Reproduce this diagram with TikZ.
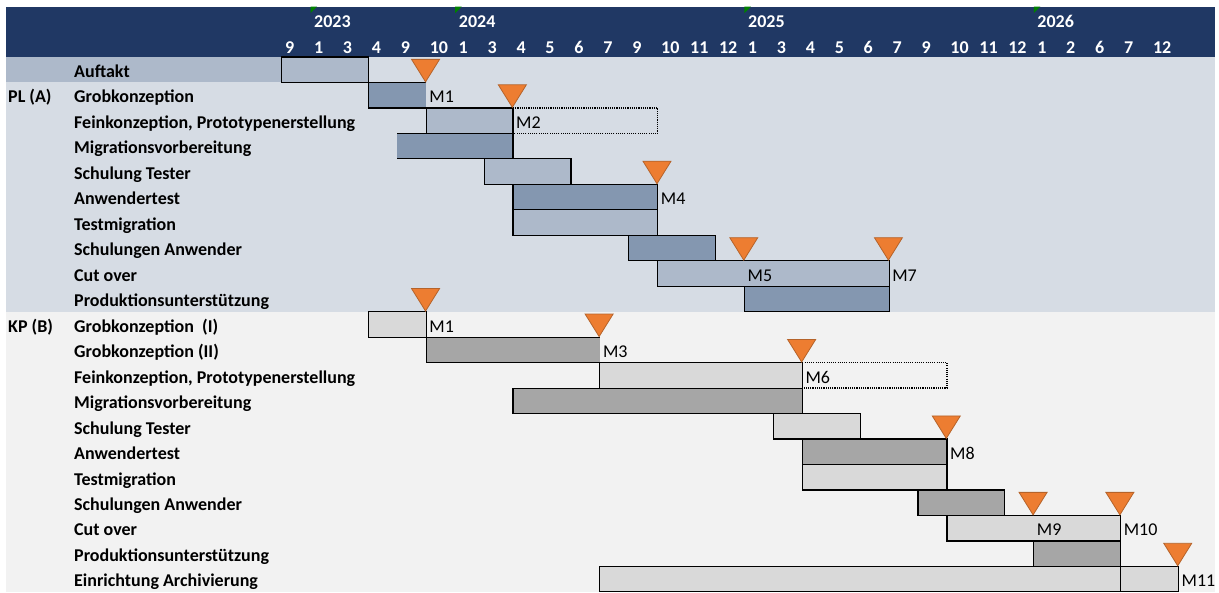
\documentclass[tikz,border=0pt]{standalone}
\usepackage{fontspec}
\setmainfont{Carlito}
\definecolor{hdrblue}{HTML}{203864}
\definecolor{plbg}{HTML}{D6DCE4}
\definecolor{pllight}{HTML}{ADB9CA}
\definecolor{pldark}{HTML}{8497B0}
\definecolor{kpbg}{HTML}{F2F2F2}
\definecolor{kplight}{HTML}{D9D9D9}
\definecolor{kpdark}{HTML}{A6A6A6}
\definecolor{msfill}{HTML}{ED7D31}
\definecolor{msline}{HTML}{B5632A}
\definecolor{errgreen}{HTML}{008000}
\def\xo{281.6}
\def\cw{28.93}
\def\yo{57}
\def\rh{25.47}
\newcommand\gbar[4]{%
  \draw[bd,fill=#4] ({\xo+#1*\cw},{\yo+#3*\rh}) rectangle ({\xo+#2*\cw},{\yo+(#3+1)*\rh});}
\newcommand\dotbox[3]{%
  \draw[dotb] ({\xo+#1*\cw},{\yo+#3*\rh}) -- ({\xo+#2*\cw},{\yo+#3*\rh}) -- ({\xo+#2*\cw},{\yo+(#3+1)*\rh}) -- ({\xo+#1*\cw},{\yo+(#3+1)*\rh});}
\newcommand\mst[2]{%
  \draw[ms] ({\xo+#1*\cw-0.7},{\yo+#2*\rh-0.6}) -- ++(-14,-22.5) -- ++(28,0) -- cycle;}
\newcommand\mlab[4]{%
  \node[mtxt] (#1) at ({\xo+#2*\cw+3},{\yo+#3*\rh+20.5}) {#4};}
\begin{document}
\begin{tikzpicture}[x=1pt,y=-1pt,
  bd/.style={draw=black,line width=1.2pt},
  dotb/.style={draw=black,line width=1.3pt,dash pattern=on 1.1pt off 1.1pt},
  ms/.style={fill=msfill,draw=msline,line width=0.8pt,line join=miter},
  hdr/.style={anchor=base west,inner sep=0pt,text=white,font=\fontsize{18}{19}\selectfont\bfseries},
  lbl/.style={anchor=base west,inner sep=0pt,text=black,font=\fontsize{18}{19}\selectfont\bfseries},
  mtxt/.style={anchor=base west,inner sep=0pt,text=black,font=\fontsize{18}{19}\selectfont}]
\useasboundingbox (0,0) rectangle (1219,593);
% backgrounds
\fill[hdrblue] (6,6.7) rectangle (1215,\yo);
\fill[plbg] (6,\yo) rectangle (1215,{\yo+10*\rh});
\fill[kpbg] (6,{\yo+10*\rh}) rectangle (1215,{\yo+21*\rh});
\fill[pllight] (6,\yo) rectangle (\xo,{\yo+\rh});
% header
\foreach \m [count=\i from 0] in {9,1,3,4,9,10,1,3,4,5,6,7,9,10,11,12,1,3,4,5,6,7,9,10,11,12,1,2,6,7,12}
  \node[hdr] (m\i) at ({\xo+\i*\cw+3.3},53.3) {\m};
\foreach \c/\y in {1/2023,6/2024,16/2025,26/2026}{
  \fill[errgreen] ({\xo+\c*\cw},6.7) -- ++(6.5,0) -- ++(-6.5,6.5) -- cycle;
  \node[hdr] (y\y) at ({\xo+\c*\cw+3.5},27.7) {\y};}
% left labels
\node[lbl] (pl) at (8,{\yo+1*\rh+20.5}) {PL (A)};
\node[lbl] (kp) at (8,{\yo+10*\rh+20.5}) {KP (B)};
\foreach \t [count=\r from 0] in {Auftakt,Grobkonzeption,{Feinkonzeption, Prototypenerstellung},Migrationsvorbereitung,Schulung Tester,Anwendertest,Testmigration,Schulungen Anwender,Cut over,Produktionsunterstützung,Grobkonzeption~~(I),Grobkonzeption (II),{Feinkonzeption, Prototypenerstellung},Migrationsvorbereitung,Schulung Tester,Anwendertest,Testmigration,Schulungen Anwender,Cut over,Produktionsunterstützung,Einrichtung Archivierung}
  \node[lbl] (l\r) at (74,{\yo+\r*\rh+20.5}) {\t};
% PL bars
\gbar{0}{3}{0}{pllight}
\fill[pldark] ({\xo+3*\cw},{\yo+1*\rh}) rectangle ({\xo+5*\cw},{\yo+2*\rh});
\draw[bd] ({\xo+5*\cw},{\yo+1*\rh}) -- ({\xo+3*\cw},{\yo+1*\rh}) -- ({\xo+3*\cw},{\yo+2*\rh}) -- ({\xo+5*\cw},{\yo+2*\rh});
\gbar{5}{8}{2}{pllight}
\dotbox{8}{13}{2}
\fill[pldark] ({\xo+4*\cw},{\yo+3*\rh}) rectangle ({\xo+8*\cw},{\yo+4*\rh});
\draw[bd] ({\xo+4*\cw},{\yo+3*\rh}) -- ({\xo+8*\cw},{\yo+3*\rh}) -- ({\xo+8*\cw},{\yo+4*\rh}) -- ({\xo+4*\cw},{\yo+4*\rh});
\gbar{7}{10}{4}{pllight}
\gbar{8}{13}{5}{pldark}
\gbar{8}{13}{6}{pllight}
\gbar{12}{15}{7}{pldark}
\gbar{13}{21}{8}{pllight}
\gbar{16}{21}{9}{pldark}
% KP bars
\gbar{3}{5}{10}{kplight}
\fill[kpdark] ({\xo+5*\cw},{\yo+11*\rh}) rectangle ({\xo+11*\cw},{\yo+12*\rh});
\draw[bd] ({\xo+11*\cw},{\yo+11*\rh}) -- ({\xo+5*\cw},{\yo+11*\rh}) -- ({\xo+5*\cw},{\yo+12*\rh}) -- ({\xo+11*\cw},{\yo+12*\rh});
\gbar{11}{18}{12}{kplight}
\dotbox{18}{23}{12}
\gbar{8}{18}{13}{kpdark}
\gbar{17}{20}{14}{kplight}
\gbar{18}{23}{15}{kpdark}
\gbar{18}{23}{16}{kplight}
\gbar{22}{25}{17}{kpdark}
\gbar{23}{29}{18}{kplight}
\gbar{26}{29}{19}{kpdark}
\gbar{11}{31}{20}{kplight}
\draw[bd] ({\xo+29*\cw},{\yo+20*\rh}) -- ({\xo+29*\cw},{\yo+21*\rh});
% milestones
\mst{5}{1}\mst{8}{2}\mst{13}{5}\mst{16}{8}\mst{21}{8}
\mst{5}{10}\mst{11}{11}\mst{18}{12}\mst{23}{15}\mst{26}{18}\mst{29}{18}\mst{31}{20}
\mlab{pm1}{5}{1}{M1}
\mlab{pm2}{8}{2}{M2}
\mlab{pm4}{13}{5}{M4}
\mlab{pm5}{16}{8}{M5}
\mlab{pm7}{21}{8}{M7}
\mlab{km1}{5}{10}{M1}
\mlab{km3}{11}{11}{M3}
\mlab{km6}{18}{12}{M6}
\mlab{km8}{23}{15}{M8}
\mlab{km9}{26}{18}{M9}
\mlab{km10}{29}{18}{M10}
\mlab{km11}{31}{20}{M11}
\end{tikzpicture}
\end{document}
